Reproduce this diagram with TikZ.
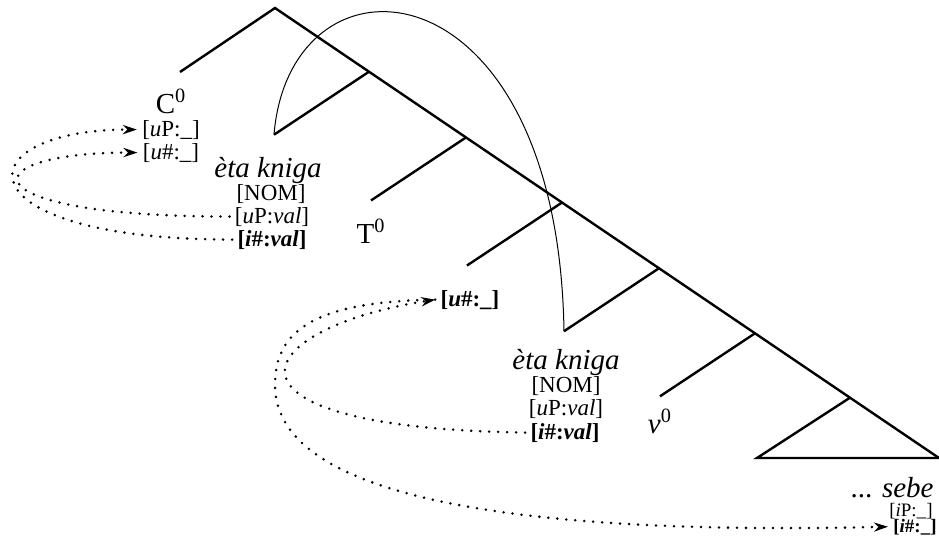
\documentclass[tikz,border=0pt]{standalone}
\usepackage{fontspec}
\setmainfont{Liberation Serif}
\usetikzlibrary{arrows.meta}

\begin{document}
\begin{tikzpicture}[x=0.5pt, y=-0.5pt,
    branch/.style={line width=1.2pt},
    move/.style={line width=0.5pt},
    word/.style={font=\fontsize{14.5}{16}\selectfont, inner xsep=1pt, inner ysep=0pt, anchor=base},
    feat/.style={font=\fontsize{11.5}{12}\selectfont, inner xsep=2.5pt, inner ysep=0pt, anchor=base},
    smallfeat/.style={feat, font=\fontsize{9.5}{10}\selectfont, anchor=base east},
    agree/.style={line width=1.4pt, line cap=round, dash pattern=on 0pt off 4.5pt,
                  -{Stealth[length=7pt, width=4.6pt]}}]
  \useasboundingbox (0,0) rectangle (939,548);

  % tree skeleton
  \coordinate (root) at (275,8);
  \coordinate (cend) at (180,72);
  \coordinate (vpend) at (939,458);
  \coordinate (dpleft) at (757,458);
  \foreach \i/\x in {1/369, 2/466, 3/562, 4/659, 5/755, 6/850}
    \coordinate (s\i) at (\x, {8+(\x-275)*0.6777});
  \draw[branch] (cend) -- (root) -- (vpend);
  \foreach \i in {1,...,5}
    \draw[branch] (s\i) -- ++(-95,63) coordinate (b\i);
  \draw[branch] (s6) -- (dpleft) -- (vpend);

  % movement of the DP
  \draw[move] (b1) .. controls +(16,-195) and +(-6,-375) .. (b4);

  % labels
  \node[word] (c0) at (171,113) {C\textsuperscript{0}};
  \node[feat] (cuP) at (171,136) {[\textit{u}P:\_]};
  \node[feat] (cunum) at (171,159) {[\textit{u}\#:\_]};

  \node[word] (dp1) at (268,177) {\textit{èta kniga}};
  \node[feat] (case1) at (271,200) {[NOM]};
  \node[feat] (uP1) at (272,223) {[\textit{u}P:\textit{val}]};
  \node[feat] (inum1) at (272,246) {\textbf{[\textit{i}\#:\textit{val}]}};

  \node[word] (t0) at (371,243) {T\textsuperscript{0}};
  \node[feat] (unum) at (470,306) {\textbf{[\textit{u}\#:\_]}};

  \node[word] (dp2) at (566,369) {\textit{èta kniga}};
  \node[feat] (case2) at (566,392) {[NOM]};
  \node[feat] (uP2) at (566,415) {[\textit{u}P:\textit{val}]};
  \node[feat] (inum2) at (565,439) {\textbf{[\textit{i}\#:\textit{val}]}};

  \node[word] (v0) at (660,433) {\textit{v}\textsuperscript{0}};

  \node[word, anchor=base east] (sebe) at (936,497) {... \textit{sebe}};
  \node[smallfeat] (iP) at (938,516) {[\textit{i}P:\_]};
  \node[smallfeat] (inum3) at (942,532) {\textbf{[\textit{i}\#:\_]}};

  % agreement
  \draw[agree] (inum1.west) .. controls +(-276,0) and +(-175,0) .. (cuP.west);
  \draw[agree] (uP1.west) .. controls +(-266,0) and +(-169,0) .. (cunum.west);
  \draw[agree] (inum2.west) .. controls +(-330,-5) and +(-187,29) .. (unum.west);
  \coordinate (bend) at (275,385);
  \draw[agree] (unum.west) .. controls +(-120,2) and +(0,-55) .. (bend)
    .. controls +(0,120) and +(-340,8) .. (inum3.west);
\end{tikzpicture}
\end{document}
